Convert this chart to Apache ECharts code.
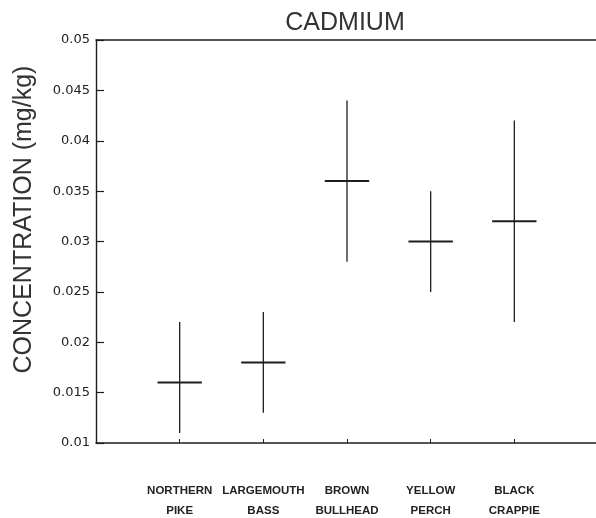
<!DOCTYPE html>
<html>
<head>
<meta charset="utf-8">
<script src="https://cdn.jsdelivr.net/npm/echarts@6/dist/echarts.min.js"></script>
<style>
html,body{margin:0;padding:0;background:#fff;}
#chart{width:596px;height:518px;}
</style>
</head>
<body>
<div id="chart"></div>
<script>
const categories = ['NORTHERN\nPIKE', 'LARGEMOUTH\nBASS', 'BROWN\nBULLHEAD', 'YELLOW\nPERCH', 'BLACK\nCRAPPIE'];
const meanValues = [0.016, 0.018, 0.036, 0.030, 0.032];
const lowValues  = [0.011, 0.013, 0.028, 0.025, 0.022];
const highValues = [0.022, 0.023, 0.044, 0.035, 0.042];
const yTicks = [0.01, 0.015, 0.02, 0.025, 0.03, 0.035, 0.04, 0.045, 0.05];

const seriesData = categories.map((c, i) => [i + 1, meanValues[i], lowValues[i], highValues[i]]);

const ink = '#1e1e1e';
const chart = echarts.init(document.getElementById('chart'), null, {renderer: 'canvas'});
chart.setOption({
  backgroundColor: '#ffffff',
  animation: false,
  title: {
    text: 'CADMIUM',
    left: 340, top: 6, textAlign: 'center',
    textStyle: {fontFamily: 'Liberation Sans', fontSize: 25, fontWeight: 'normal', color: '#333'}
  },
  grid: {left: 96, right: -2, top: 40, bottom: 75, containLabel: false, outerBoundsMode: 'none'},
  xAxis: [{
    type: 'value', min: 0, max: categories.length + 1, interval: 1,
    axisLine: {show: true, lineStyle: {color: ink, width: 1.6}},
    axisTick: {show: true, inside: true, length: 4, lineStyle: {color: ink, width: 1}},
    splitLine: {show: false},
    axisLabel: {
      margin: 38, lineHeight: 20,
      fontFamily: 'Liberation Sans', fontWeight: 'bold', fontSize: 11.5, color: '#222',
      formatter: v => categories[v - 1] || ''
    }
  }, {
    type: 'value', position: 'top', min: 0, max: categories.length + 1,
    axisLine: {show: true, onZero: false, lineStyle: {color: ink, width: 1.6}},
    axisTick: {show: false}, axisLabel: {show: false}, splitLine: {show: false}
  }],
  yAxis: {
    type: 'value', min: 0.01, max: 0.05, interval: 0.005,
    name: 'CONCENTRATION (mg/kg)', nameLocation: 'middle', nameGap: 59,
    nameTextStyle: {fontFamily: 'Liberation Sans', fontSize: 25, color: '#333', padding: [0, 0, 0, 44]},
    axisLine: {show: true, lineStyle: {color: ink, width: 1.4}},
    axisTick: {show: true, inside: true, length: 8, lineStyle: {color: ink, width: 1.2}},
    splitLine: {show: false},
    axisLabel: {
      margin: 6, fontFamily: 'DejaVu Sans', fontSize: 13, color: '#222',
      formatter: v => {
        const t = yTicks.find(x => Math.abs(x - v) < 1e-9);
        return t === undefined ? '' : String(t);
      }
    }
  },
  series: [{
    type: 'custom',
    xAxisIndex: 0,
    data: seriesData,
    renderItem: function (params, api) {
      const x = api.value(0);
      const pMean = api.coord([x, api.value(1)]);
      const pLow = api.coord([x, api.value(2)]);
      const pHigh = api.coord([x, api.value(3)]);
      const half = api.size([0.53, 0])[0] / 2;
      return {
        type: 'group',
        children: [
          {type: 'line', shape: {x1: pLow[0], y1: pLow[1], x2: pHigh[0], y2: pHigh[1]},
           style: {stroke: ink, lineWidth: 1.3}},
          {type: 'line', shape: {x1: pMean[0] - half, y1: pMean[1], x2: pMean[0] + half, y2: pMean[1]},
           style: {stroke: ink, lineWidth: 2}}
        ]
      };
    }
  }]
});
</script>
</body>
</html>
